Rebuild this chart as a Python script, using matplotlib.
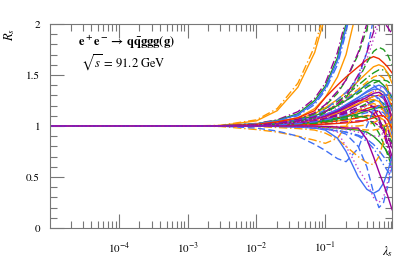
import matplotlib
matplotlib.use("Agg")
import matplotlib.pyplot as plt
from matplotlib.ticker import LogLocator, MultipleLocator, NullFormatter, FixedLocator

plt.rcParams['font.family'] = ['STIXGeneral', 'DejaVu Serif']
plt.rcParams['mathtext.fontset'] = 'stix'

# lambda_s nodes (curves all equal 1 at the first two nodes)
lam = [1e-5, 1e-3, 3e-3, 1e-2, 2e-2, 4e-2, 0.07, 0.1, 0.15, 0.2, 0.3, 0.4, 0.5, 0.6, 0.7, 0.8, 0.93]
start = [1.0, 1.0]

# steep risers
c01 = [1.006, 1.06, 1.17, 1.42, 1.78, 2.15, 2.8, 3.5, 4, 4, 4, 4, 4, 4, 4]
c02 = [1.004, 1.05, 1.15, 1.38, 1.72, 2.08, 2.7, 3.4, 4, 4, 4, 4, 4, 4, 4]
c03 = [1.002, 1.025, 1.06, 1.14, 1.27, 1.42, 1.72, 2.05, 2.8, 4, 4, 4, 4, 4, 4]
c04 = [1.002, 1.022, 1.055, 1.12, 1.25, 1.39, 1.67, 2.0, 2.7, 4, 4, 4, 4, 4, 4]
c05 = [1.002, 1.02, 1.05, 1.11, 1.23, 1.37, 1.64, 1.96, 2.6, 4, 4, 4, 4, 4, 4]
c06 = [1.002, 1.02, 1.048, 1.1, 1.21, 1.35, 1.6, 1.92, 2.5, 4, 4, 4, 4, 4, 4]
c07 = [1.001, 1.016, 1.04, 1.08, 1.17, 1.28, 1.48, 1.7, 2.2, 3, 4, 4, 4, 4, 4]
c08 = [1.001, 1.01, 1.03, 1.06, 1.12, 1.2, 1.32, 1.45, 1.7, 1.95, 2.2, 3, 4, 4, 4]
c09 = [1.001, 1.012, 1.03, 1.065, 1.13, 1.21, 1.34, 1.45, 1.72, 2.0, 2.5, 3, 4, 4, 4]
c10 = [1.001, 1.01, 1.025, 1.055, 1.1, 1.16, 1.26, 1.33, 1.47, 1.72, 2.05, 2.6, 3, 4, 4]
c11 = [1.002, 1.015, 1.04, 1.08, 1.15, 1.28, 1.4, 1.48, 1.58, 1.65, 1.68, 1.66, 1.62, 1.58, 1.52]
c12 = [1.001, 1.008, 1.02, 1.045, 1.08, 1.13, 1.2, 1.28, 1.45, 1.62, 1.73, 1.77, 1.75, 1.7, 1.6]
c13 = [1.001, 1.008, 1.02, 1.04, 1.07, 1.11, 1.18, 1.25, 1.45, 1.65, 1.85, 2.0, 2.05, 2.05, 2.0]
c14 = [1.001, 1.01, 1.025, 1.05, 1.09, 1.14, 1.22, 1.3, 1.5, 1.72, 1.92, 2.05, 2.02, 1.97, 1.9]

# bulk
b01 = [1.002, 1.01, 1.03, 1.06, 1.1, 1.14, 1.2, 1.25, 1.34, 1.41, 1.45, 1.44, 1.4, 1.35, 1.28]
b02 = [1.002, 1.01, 1.025, 1.05, 1.08, 1.11, 1.16, 1.2, 1.28, 1.34, 1.38, 1.4, 1.38, 1.33, 1.25]
b03 = [1.001, 1.008, 1.02, 1.04, 1.07, 1.1, 1.14, 1.18, 1.25, 1.3, 1.34, 1.35, 1.33, 1.28, 1.2]
b04 = [1.001, 1.007, 1.018, 1.035, 1.06, 1.09, 1.12, 1.15, 1.21, 1.26, 1.29, 1.3, 1.27, 1.2, 1.05]
b05 = [1.001, 1.006, 1.015, 1.03, 1.05, 1.07, 1.1, 1.13, 1.18, 1.22, 1.25, 1.25, 1.22, 1.15, 1.0]
b06 = [1.001, 1.005, 1.012, 1.025, 1.04, 1.06, 1.08, 1.1, 1.14, 1.17, 1.19, 1.2, 1.18, 1.12, 0.98]
b07 = [1.0, 1.004, 1.01, 1.02, 1.035, 1.05, 1.065, 1.08, 1.11, 1.13, 1.15, 1.15, 1.13, 1.08, 0.95]
b08 = [1.0, 1.003, 1.008, 1.015, 1.025, 1.035, 1.05, 1.06, 1.08, 1.1, 1.1, 1.09, 1.06, 1.0, 0.88]
b09 = [1.0, 1.002, 1.005, 1.01, 1.015, 1.02, 1.03, 1.04, 1.05, 1.05, 1.04, 1.0, 0.95, 0.88, 0.78]
b10 = [1.0, 0.999, 0.997, 0.993, 0.99, 0.985, 0.98, 0.97, 0.96, 0.94, 0.9, 0.85, 0.8, 0.74, 0.66]
b11 = [1.0, 0.998, 0.995, 0.99, 0.98, 0.97, 0.955, 0.94, 0.91, 0.87, 0.82, 0.76, 0.7, 0.65, 0.6]
b12 = [1.002, 1.01, 1.025, 1.05, 1.08, 1.11, 1.15, 1.19, 1.25, 1.3, 1.34, 1.37, 1.38, 1.36, 1.3]
b13 = [1.002, 1.012, 1.03, 1.06, 1.1, 1.15, 1.21, 1.27, 1.36, 1.43, 1.48, 1.5, 1.47, 1.38, 1.1]
b14 = [1.003, 1.015, 1.035, 1.07, 1.12, 1.17, 1.24, 1.3, 1.4, 1.47, 1.52, 1.55, 1.55, 1.52, 1.45]
b15 = [1.001, 1.006, 1.015, 1.03, 1.05, 1.08, 1.11, 1.14, 1.18, 1.2, 1.19, 1.15, 1.08, 0.98, 0.82]
b16 = [1.002, 1.008, 1.02, 1.04, 1.07, 1.1, 1.15, 1.19, 1.26, 1.3, 1.3, 1.27, 1.2, 1.1, 0.92]
b17 = [1.0, 1.003, 1.008, 1.015, 1.025, 1.035, 1.05, 1.06, 1.08, 1.1, 1.12, 1.15, 1.18, 1.2, 1.22]
b18 = [1.0, 1.0, 0.999, 0.998, 0.996, 0.995, 0.995, 0.997, 1.0, 1.01, 1.03, 1.06, 1.08, 1.1, 1.12]
b19 = [1.0, 1.004, 1.01, 1.02, 1.04, 1.06, 1.08, 1.09, 1.1, 1.08, 1.02, 0.93, 0.83, 0.72, 0.6]
b20 = [1.001, 1.007, 1.018, 1.035, 1.06, 1.1, 1.15, 1.2, 1.25, 1.24, 1.18, 1.08, 0.96, 0.84, 0.7]
b21 = [1.002, 1.01, 1.025, 1.05, 1.09, 1.14, 1.2, 1.26, 1.34, 1.4, 1.4, 1.35, 1.27, 1.15, 1.0]
b22 = [1.003, 1.015, 1.035, 1.07, 1.12, 1.18, 1.26, 1.33, 1.44, 1.52, 1.58, 1.6, 1.58, 1.52, 1.42]
b23 = [1.0, 0.999, 0.997, 0.994, 0.99, 0.985, 0.975, 0.965, 0.94, 0.92, 0.9, 0.9, 0.93, 0.98, 1.05]
b24 = [1.0, 1.004, 1.01, 1.02, 1.035, 1.05, 1.07, 1.09, 1.12, 1.15, 1.17, 1.18, 1.18, 1.19, 1.2]
b25 = [1.0, 0.998, 0.994, 0.988, 0.98, 0.97, 0.955, 0.94, 0.9, 0.85, 0.78, 0.7, 0.62, 0.56, 0.5]
b26 = [1.001, 1.005, 1.012, 1.025, 1.045, 1.07, 1.1, 1.13, 1.16, 1.16, 1.12, 1.04, 0.93, 0.8, 0.65]
b27 = [1.002, 1.008, 1.02, 1.04, 1.065, 1.09, 1.13, 1.17, 1.22, 1.26, 1.29, 1.3, 1.3, 1.28, 1.25]
b28 = [1.002, 1.012, 1.03, 1.06, 1.1, 1.14, 1.2, 1.25, 1.32, 1.38, 1.42, 1.44, 1.45, 1.44, 1.4]
b29 = [1.001, 1.006, 1.016, 1.035, 1.06, 1.09, 1.13, 1.17, 1.22, 1.25, 1.26, 1.24, 1.18, 1.1, 0.95]
b30 = [1.001, 1.005, 1.013, 1.028, 1.05, 1.075, 1.1, 1.12, 1.15, 1.15, 1.12, 1.06, 0.98, 0.9, 0.8]
b31 = [1.0, 1.003, 1.007, 1.014, 1.025, 1.04, 1.055, 1.07, 1.09, 1.1, 1.09, 1.05, 1.0, 0.92, 0.84]
b32 = [1.002, 1.009, 1.022, 1.045, 1.075, 1.11, 1.16, 1.21, 1.28, 1.33, 1.36, 1.36, 1.33, 1.27, 1.15]
b33 = [1.0, 1.002, 1.004, 1.008, 1.012, 1.018, 1.025, 1.03, 1.04, 1.06, 1.08, 1.1, 1.1, 1.06, 0.98]
b34 = [1.0, 0.999, 0.998, 0.996, 0.993, 0.99, 0.985, 0.98, 0.97, 0.96, 0.96, 0.97, 1.0, 1.02, 1.02]
b35 = [1.001, 1.007, 1.018, 1.038, 1.065, 1.095, 1.14, 1.18, 1.24, 1.28, 1.32, 1.33, 1.3, 1.22, 1.08]
b36 = [1.0, 1.004, 1.01, 1.022, 1.04, 1.06, 1.085, 1.11, 1.15, 1.2, 1.24, 1.28, 1.3, 1.31, 1.3]

# fallers
d01 = [0.995, 0.965, 0.94, 0.9, 0.86, 0.83, 0.88, 1.0, 1.15, 1.2, 1.22, 1.2, 1.15, 1.1, 1.0]
d02 = [0.998, 0.98, 0.95, 0.9, 0.82, 0.76, 0.68, 0.65, 0.78, 1.0, 1.15, 1.2, 1.18, 1.1, 1.0]
d03 = [1.0, 0.995, 0.985, 0.975, 0.96, 0.93, 0.87, 0.8, 0.7, 0.64, 0.62, 0.7, 0.85, 1.0, 1.1]
d04 = [1.0, 0.998, 0.995, 0.99, 0.98, 0.96, 0.88, 0.75, 0.5, 0.38, 0.34, 0.37, 0.44, 0.55, 0.7]
d05 = [1.0, 0.999, 0.997, 0.993, 0.985, 0.97, 0.95, 0.92, 0.8, 0.6, 0.35, 0.2, 0.25, 0.4, 0.6]
d06 = [1.0, 0.999, 0.997, 0.993, 0.985, 0.975, 0.94, 0.8, 0.58, 0.45, 0.3, 0.25, 0.3, 0.45, 0.65]
d07 = [1.0, 1.0, 1.0, 1.0, 1.0, 0.995, 0.99, 0.98, 0.98, 0.87, 0.7, 0.55, 0.43, 0.32, 0.18]

OR, BL, GR, PU, RD, VI = '#FF9900', '#3F6FF5', '#1E9A1E', '#990099', '#F02A00', '#C040D0'
DASH, DD, DOT = (0, (5, 2.5)), (0, (6, 2, 1, 2)), (0, (1, 2))

curves = [
    (b01, GR, '-'), (b02, BL, '-'), (b03, OR, DD), (b04, PU, '-'), (b05, GR, DASH),
    (b06, RD, '-'), (b07, BL, DASH), (b08, OR, '-'), (b09, PU, DD), (b10, GR, '-'),
    (b11, BL, DD), (b12, VI, DOT), (b13, OR, DASH), (b14, GR, DD), (b15, PU, DASH),
    (b16, BL, '-'), (b17, RD, DASH), (b18, OR, DD), (b19, GR, DASH), (b20, PU, '-'),
    (b21, BL, DASH), (b22, OR, '-'), (b23, VI, DOT), (b24, GR, '-'), (b25, BL, DD),
    (b26, PU, DD), (b27, OR, DASH), (b28, GR, DASH), (b29, OR, '-'), (b30, PU, DASH),
    (b31, GR, DD), (b32, BL, '-'), (b33, RD, '-'), (b34, OR, DASH), (b35, PU, '-'),
    (b36, BL, DD),
    (c01, OR, DD), (c02, OR, '-'), (c03, PU, DD), (c04, GR, '-'), (c05, BL, '-'),
    (c06, BL, DD), (c07, OR, '-'), (c08, GR, DASH), (c09, PU, DD), (c10, BL, DASH),
    (c11, RD, '-'), (c12, GR, DASH), (c13, VI, DOT), (c14, PU, DD),
    (d01, OR, DD), (d02, BL, DASH), (d03, OR, DD), (d04, BL, '-'), (d05, BL, DASH),
    (d06, VI, DOT), (d07, PU, '-'),
]

fig = plt.figure(figsize=(4.05, 2.63), dpi=100)
ax = fig.add_axes([0.123, 0.133, 0.845, 0.776])

for vals, col, ls in curves:
    ax.plot(lam, start + vals, color=col, ls=ls, lw=1.0)

ax.set_xscale('log')
ax.set_xlim(1e-5, 0.93)
ax.set_ylim(0, 2)

ax.xaxis.set_major_locator(FixedLocator([1e-4, 1e-3, 1e-2, 1e-1]))
ax.xaxis.set_minor_locator(LogLocator(base=10, subs=range(2, 10), numticks=20))
ax.xaxis.set_minor_formatter(NullFormatter())
ax.set_xticklabels([r'$10^{-4}$', r'$10^{-3}$', r'$10^{-2}$', r'$10^{-1}$'])
ax.yaxis.set_major_locator(FixedLocator([0, 0.5, 1, 1.5, 2]))
ax.yaxis.set_minor_locator(MultipleLocator(0.1))
ax.set_yticklabels(['0', '0.5', '1', '1.5', '2'])

sc = '#777777'
for s in ax.spines.values():
    s.set_color(sc)
    s.set_linewidth(0.8)
ax.tick_params(which='both', direction='in', top=True, right=True, color=sc,
               labelsize=8, width=0.8)
ax.tick_params(which='major', length=10, pad=7)
ax.tick_params(which='minor', length=5)
ax.tick_params(axis='x', which='major', pad=9)

ax.text(0.225, 0.91, r'$\mathbf{e^+e^-\rightarrow\, q\bar{q}ggg(g)}$', transform=ax.transAxes,
        ha='center', va='center', fontsize=9)
ax.text(0.215, 0.81, r'$\sqrt{s}$ = 91.2 GeV', transform=ax.transAxes,
        ha='center', va='center', fontsize=9)

fig.text(10 / 405, 1 - 35 / 263, r'$R_s$', rotation=90, ha='center', va='center', fontsize=9)
fig.text(388 / 405, 1 - 252 / 263, r'$\lambda_s$', ha='center', va='center', fontsize=9)

fig.savefig('out.png', dpi=100)
